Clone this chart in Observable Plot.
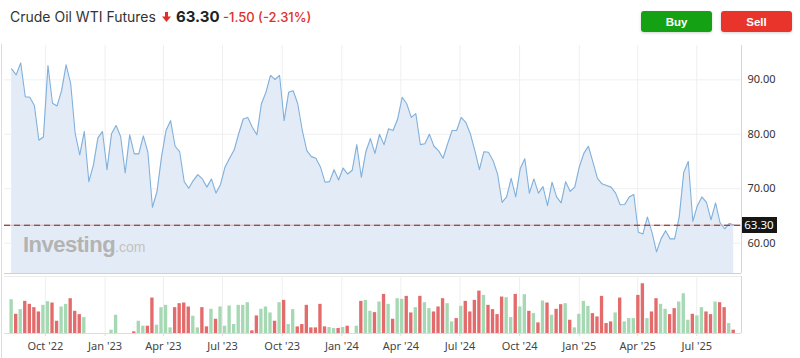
<!DOCTYPE html>
<html><head><meta charset="utf-8">
<script src="https://cdn.jsdelivr.net/npm/d3@7"></script>
<script src="https://cdn.jsdelivr.net/npm/@observablehq/plot@0.6"></script>
<style>
html,body{margin:0;padding:0;background:#fff}
#wrap{position:relative;width:800px;height:358px;overflow:hidden;font-family:Inter,"Noto Sans",sans-serif}
.abs{position:absolute;white-space:nowrap;top:7px;line-height:20px;height:20px}
#leftline{position:absolute;left:1px;top:44px;width:1px;height:314px;background:#dcdcdc}
.btn{position:absolute;top:11px;width:71px;height:21px;border-radius:3px;color:#fff;font:bold 11.5px "Liberation Sans",Arial,sans-serif;display:flex;align-items:center;justify-content:center;box-shadow:0 1px 3px rgba(0,0,0,.18)}
#pricebox{position:absolute;left:741.5px;width:35px;height:16px;background:#161616;color:#fff;font:11.5px "Noto Sans",sans-serif;display:flex;align-items:center;justify-content:center}
#wm{position:absolute;left:23px;top:234px;white-space:nowrap;line-height:22px;font-family:"Liberation Sans",Arial,sans-serif}
#wm b{font-size:22px;font-weight:bold;color:#b3b3b3;letter-spacing:-0.5px}
#wm span{font-size:14px;color:#c2c2c2}
svg{position:absolute;left:0}
</style></head><body><div id="wrap">
<div class="abs" style="left:10px;font-size:14px;color:#333">Crude Oil WTI Futures</div>
<svg style="left:162px;top:12px" width="9" height="10" viewBox="0 0 9 10"><rect x="3" y="0" width="3" height="5" fill="#e0302a"/><polygon points="0,4.5 9,4.5 4.5,10" fill="#e0302a"/></svg>
<div class="abs" style="left:176px;font-size:15px;font-weight:700;color:#222">63.30</div>
<div class="abs" style="left:223px;font-size:13px;font-weight:500;color:#e0302a">-1.50 (-2.31%)</div>
<div class="btn" style="left:641px;background:#14a214">Buy</div>
<div class="btn" style="left:721px;background:#e8342b">Sell</div>
<div id="leftline"></div>
<div id="charts"></div>
<div id="wm"><b>Investing</b><span>.com</span></div>
<div id="pricebox">63.30</div>
</div>
<script>
// ---- data ----
const weekStart = "2022-08-10";
const price = [92.0,90.9,93.1,86.9,86.8,85.3,78.9,79.5,92.6,85.7,
85.2,88.0,92.75,89.3,80.1,76.2,80.5,71.3,74.3,79.35,
80.5,73.5,80.1,81.6,79.6,72.9,79.9,76.4,76.4,79.7,
76.7,66.6,69.4,75.8,80.7,82.5,77.8,76.8,71.3,70.1,
71.5,72.6,71.8,70.3,71.8,69.2,70.8,74.0,75.6,77.1,
80.1,82.8,83.1,81.3,79.9,85.6,87.7,90.8,90.06,90.8,
82.5,87.7,88.0,85.6,80.7,77.0,75.9,75.6,74.0,71.2,
71.3,73.5,71.6,73.8,72.7,73.4,78.1,72.1,76.8,79.2,
76.5,80.0,78.1,81.0,80.7,82.8,86.8,85.6,83.1,83.8,
78.1,78.25,80.0,77.8,77.0,75.6,78.25,80.7,80.7,83.1,
82.2,80.1,77.0,73.5,76.8,76.7,75.2,72.7,67.5,68.5,
71.9,68.5,73.7,75.5,69.2,71.8,69.2,70.4,66.9,71.2,
68.5,67.4,71.3,69.5,70.3,74.0,76.5,77.8,74.9,71.9,
70.9,70.6,70.3,69.2,67.05,67.1,68.5,68.95,62.0,61.7,
64.8,62.0,58.4,60.8,62.3,60.8,60.8,64.8,73.0,75.0,
64.0,66.9,68.5,67.5,64.3,67.4,63.75,62.65,63.6,63.4];
const volume = [1020,580,720,970,880,780,650,850,960,920,
370,800,880,1050,670,570,480,0,0,0,
0,0,100,550,0,0,0,50,370,220,
220,1070,250,780,850,170,780,900,920,800,
520,170,780,200,730,430,800,220,830,270,
850,850,930,80,530,730,800,620,370,930,
1000,270,720,200,270,850,170,170,880,200,
180,150,150,180,220,0,220,970,1000,670,
630,950,1180,880,430,1050,1030,1120,620,780,
1120,930,750,650,800,1050,900,350,450,820,
970,650,1000,1280,1150,850,720,570,1100,1080,
480,1180,800,1170,670,600,320,980,920,550,
730,870,900,400,170,580,970,820,600,500,
1120,300,350,620,1070,350,450,450,1150,1500,
450,650,1050,880,730,570,750,950,1200,400,
580,530,780,650,570,950,930,780,300,100];
const volDir = ("GRGRRRRGGR"+"RGGRRRGRGG"+"GRGGRRGRGG"+"RRGGGGRRRR"+"GGRRGRGGGG"+
"GGGRRGGGRG"+"RGGRRRRRRR"+"GGRGRGGRGG"+"RGRGRGGRRG"+"RGGRRRGGRG"+
"RRRRGRRRRG"+"GRGGRGRGRG"+"RRGRGGGGRR"+"RRRGRGGGRR"+"GRRGGRRGGG"+"RGGRRGRRGR").split("");
const tickDates = ["2022-10-01","2023-01-01","2023-04-01","2023-07-01","2023-10-01","2024-01-01",
"2024-04-01","2024-07-01","2024-10-01","2025-01-01","2025-04-01","2025-07-01"];
const tickLabels = ["Oct '22","Jan '23","Apr '23","Jul '23","Oct '23","Jan '24",
"Apr '24","Jul '24","Oct '24","Jan '25","Apr '25","Jul '25"];
const yTicks = [60,70,80,90];
const lastPrice = 63.30;

// ---- build ----
const DAY = 864e5;
const start = new Date(weekStart + "T00:00:00Z");
const rows = price.map((p, i) => ({date: new Date(+start + i*7*DAY), price: p, vol: volume[i], dir: volDir[i]}));
const ticks = tickDates.map(s => new Date(s + "T00:00:00Z"));
const labelMap = new Map(ticks.map((d, i) => [+d, tickLabels[i]]));
const xDomain = [new Date("2022-07-30T00:00:00Z"), new Date("2025-09-08T00:00:00Z")];
const yMin = 54.44, yMax = 96.3;
const style = {fontFamily: '"Noto Sans", sans-serif', fontSize: "11px", color: "#333", background: "transparent", overflow: "visible"};

const priceChart = Plot.plot({
  width: 800, height: 235, marginLeft: 4, marginRight: 59, marginTop: 5, marginBottom: 2,
  x: {type: "utc", domain: xDomain, axis: null},
  y: {domain: [yMin, yMax], axis: null},
  style,
  marks: [
    Plot.gridX(ticks, {stroke: "#efefef", strokeOpacity: 1}),
    Plot.gridY(yTicks, {stroke: "#f0f0f0", strokeOpacity: 1}),
    Plot.areaY(rows, {x: "date", y1: yMin, y2: "price", fill: "#e3ecf6"}),
    Plot.lineY(rows, {x: "date", y: "price", stroke: "#80b0dc", strokeWidth: 1.1}),
    Plot.ruleY([lastPrice], {stroke: "#f2a5a5", strokeWidth: 1}),
    Plot.ruleY([lastPrice], {stroke: "#6a2a2a", strokeWidth: 1, strokeDasharray: "6,4"}),
    Plot.ruleX([xDomain[1]], {stroke: "#d6d6d6"}),
    Plot.ruleY([yMin], {stroke: "#d0d0d0"}),
    Plot.axisY(yTicks, {anchor: "right", label: null, tickSize: 0, tickPadding: 6, tickFormat: d3.format(".2f"), fontSize: 11, fill: "#333"})
  ]
});
priceChart.style.top = "40px";

const bar = (dir, color) => Plot.rectY(rows.filter(d => d.dir === dir && d.vol > 0), {
  x1: d => new Date(+d.date - 3.5*DAY), x2: d => new Date(+d.date + 3.5*DAY),
  y1: 0, y2: "vol", fill: color, insetLeft: 0.6, insetRight: 0.6
});
const volChart = Plot.plot({
  width: 800, height: 83, marginLeft: 4, marginRight: 59, marginTop: 1, marginBottom: 25,
  x: {type: "utc", domain: xDomain, axis: null},
  y: {domain: [0, 1720], axis: null},
  style,
  marks: [
    Plot.gridX(ticks, {stroke: "#efefef", strokeOpacity: 1}),
    bar("G", "#a6d8b3"),
    bar("R", "#e36b6b"),
    Plot.ruleY([0], {stroke: "#dddddd"}),
    Plot.ruleY([1720], {stroke: "#ececec"}),
    Plot.ruleX([xDomain[1]], {stroke: "#d6d6d6"}),
    Plot.axisX(ticks, {label: null, tickSize: 3, tickPadding: 6, tickFormat: d => labelMap.get(+d), fontSize: 11, fill: "#444", stroke: "#dddddd"})
  ]
});
volChart.style.top = "275px";

const holder = document.getElementById("charts");
holder.appendChild(priceChart);
holder.appendChild(volChart);

const yPx = priceChart.scale("y").apply(lastPrice);
document.getElementById("pricebox").style.top = (40 + yPx - 8) + "px";
</script>
</body></html>
